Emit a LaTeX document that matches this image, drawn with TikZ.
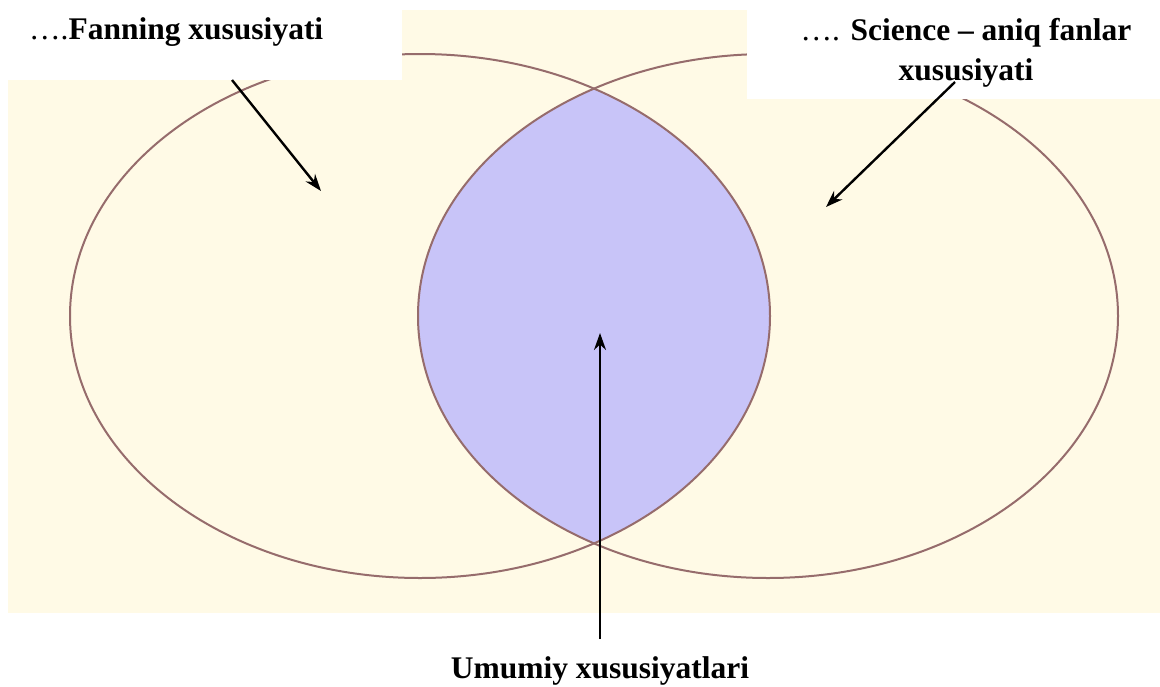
\documentclass[tikz,border=0pt]{standalone}
\usepackage{fontspec}
\setmainfont{Liberation Serif}
\usetikzlibrary{arrows.meta}
\definecolor{cream}{RGB}{255,250,230}
\definecolor{lens}{RGB}{200,196,248}
\definecolor{ring}{RGB}{150,108,108}
\tikzset{
  captiontext/.style={font=\fontsize{31.5}{40}\selectfont\rmfamily\bfseries, inner sep=0pt, align=center},
  pointer/.style={line width=2.4pt, -{Stealth[length=17pt,width=12pt]}},
  ringline/.style={draw=ring, line width=2pt}
}
\begin{document}
\begin{tikzpicture}[x=1pt,y=-1pt]
\useasboundingbox (0,0) rectangle (1160,686);
\fill[white] (0,0) rectangle (1160,686);
\fill[cream] (8,10) rectangle (1160,613);
\begin{scope}
  \clip (420,316) ellipse [x radius=350pt, y radius=262pt];
  \fill[lens] (768,316) ellipse [x radius=350pt, y radius=262pt];
\end{scope}
\draw[ringline] (420,316) ellipse [x radius=350pt, y radius=262pt];
\draw[ringline] (768,316) ellipse [x radius=350pt, y radius=262pt];
\fill[white] (0,0) rectangle (402,80);
\fill[white] (747,0) rectangle (1160,99);
\node[captiontext, anchor=base west] (lt) at (29,39) {{\mdseries ….}Fanning xususiyati};
\node[captiontext, anchor=base] (rt) at (966,80) {{\mdseries ….} Science – aniq fanlar\\xususiyati};
\node[captiontext, anchor=base] (bt) at (600,678) {Umumiy xususiyatlari};
\coordinate (ls) at (232,80);
\coordinate (le) at (321,191);
\coordinate (rs) at (955,82);
\coordinate (re) at (826,207);
\coordinate (cs) at (600,639);
\coordinate (ce) at (600,333);
\draw[pointer] (ls) -- (le);
\draw[pointer] (rs) -- (re);
\draw[pointer] (cs) -- (ce);
\end{tikzpicture}
\end{document}
